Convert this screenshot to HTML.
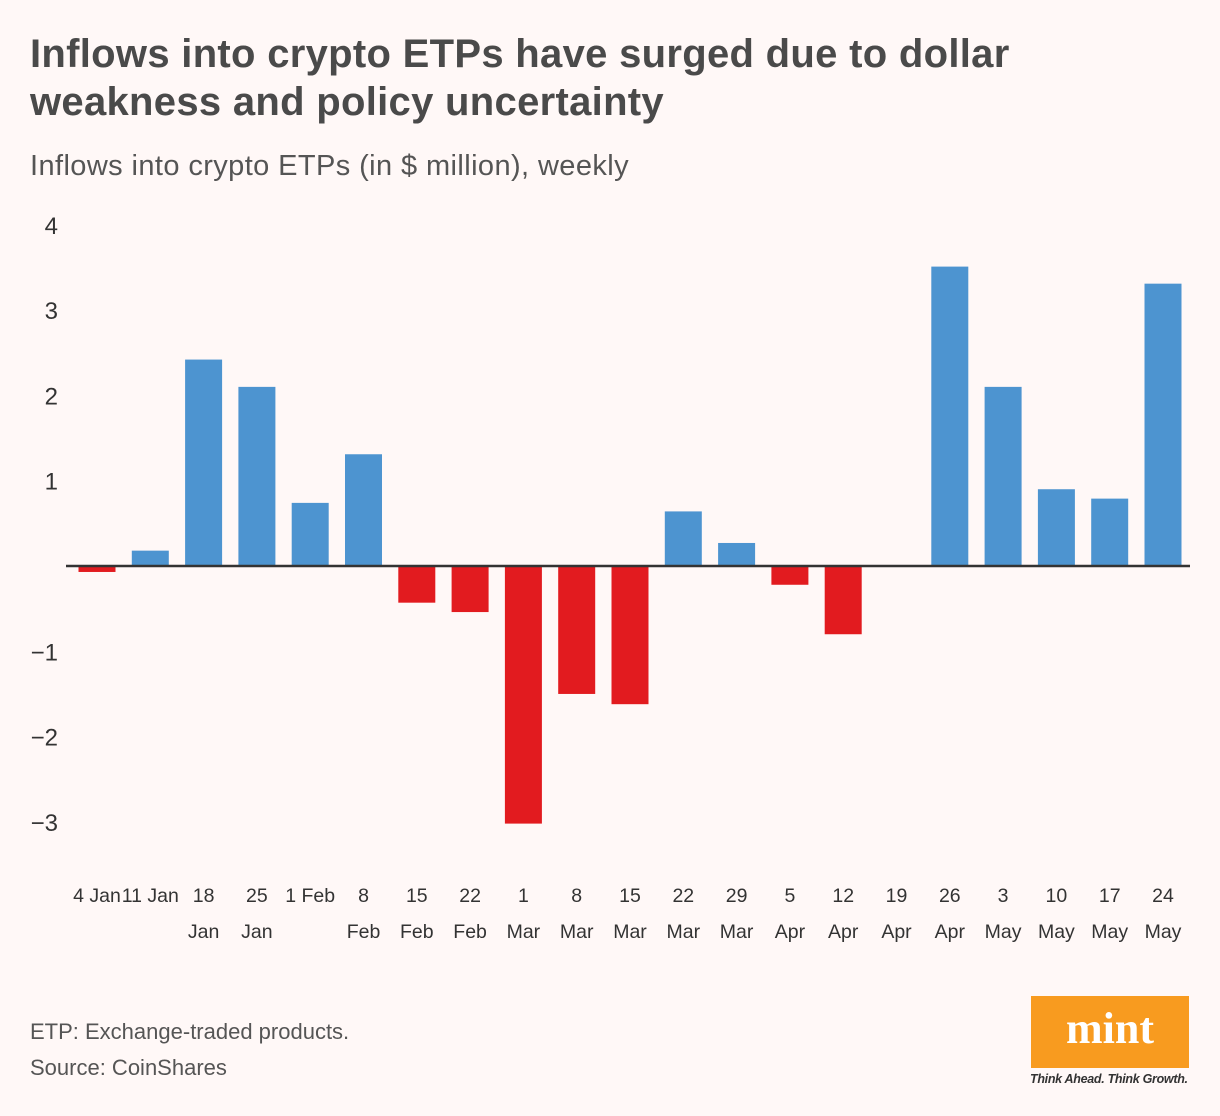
<!DOCTYPE html>
<html><head><meta charset="utf-8"><style>
body{margin:0;background:#fff8f7;width:1220px;height:1116px;overflow:hidden;font-family:"Liberation Sans",sans-serif;position:relative}
.t{position:absolute;left:30px;top:30px;font-size:40px;font-weight:bold;color:#4a4a4a;line-height:48px;letter-spacing:0.3px}
.s{position:absolute;left:30px;top:150px;font-size:29px;color:#555;letter-spacing:0.4px}
.f{position:absolute;left:30px;font-size:22px;color:#555}
</style></head><body>
<div class="t">Inflows into crypto ETPs have surged due to dollar<br>weakness and policy uncertainty</div>
<div class="s">Inflows into crypto ETPs (in $ million), weekly</div>
<svg id="c" width="1220" height="1116" style="position:absolute;left:0;top:0"></svg>
<div class="f" style="top:1019px">ETP: Exchange-traded products.</div>
<div class="f" style="top:1055px">Source: CoinShares</div>
<div style="position:absolute;left:1031px;top:996px;width:158px;height:72px;background:#f89b1f;color:#fff;font-family:'Liberation Serif',serif;font-weight:bold;font-size:44px;text-align:center;line-height:66px">mint</div>
<div style="position:absolute;left:1030px;top:1072px;font-size:12.5px;font-style:italic;font-weight:bold;color:#333;letter-spacing:-0.3px">Think Ahead. Think Growth.</div>
<script>
const labels1=["4 Jan","11 Jan","18","25","1 Feb","8","15","22","1","8","15","22","29","5","12","19","26","3","10","17","24"];
const labels2=["","","Jan","Jan","","Feb","Feb","Feb","Mar","Mar","Mar","Mar","Mar","Apr","Apr","Apr","Apr","May","May","May","May"];
const values=[-0.07,0.18,2.42,2.1,0.74,1.31,-0.43,-0.54,-3.02,-1.5,-1.62,0.64,0.27,-0.22,-0.8,0,3.51,2.1,0.9,0.79,3.31];
const yTicks=[4,3,2,1,-1,-2,-3];
const svg=document.getElementById('c');const NS='http://www.w3.org/2000/svg';
const y=v=>566-v*85.3;const x=i=>97+i*53.3;
function mk(t,a){const e=document.createElementNS(NS,t);for(const k in a)e.setAttribute(k,a[k]);svg.appendChild(e);return e;}
yTicks.forEach(v=>{const e=mk('text',{x:58,y:y(v)+9,'text-anchor':'end','font-size':24,fill:'#333','font-family':'Liberation Sans, sans-serif'});e.textContent=v<0?'\u2212'+(-v):v;

});
values.forEach((v,i)=>{const r=mk('rect',{x:x(i)-18.5,y:Math.min(y(v),y(0)),width:37,height:Math.abs(y(v)-y(0)),fill:v>=0?'#4d94d0':'#e21b1f'});


[labels1[i],labels2[i]].forEach((l,j)=>{const t=mk('text',{x:x(i),y:902+j*36,'text-anchor':'middle','font-size':19.5,fill:'#333','font-family':'Liberation Sans, sans-serif'});t.textContent=l;

});});
const z=mk('line',{x1:66,x2:1190,y1:y(0),y2:y(0),stroke:'#333','stroke-width':2.5});


</script>
</body></html>
